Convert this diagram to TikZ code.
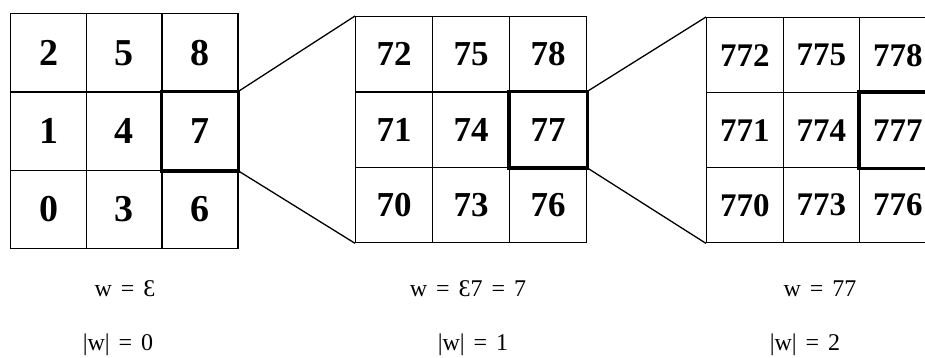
\documentclass[tikz,border=0pt]{standalone}
\usepackage{fontspec}
\setmainfont{Liberation Serif}
\newcommand{\eqsp}{\hspace{3pt} = \hspace{3pt}}
\begin{document}
\begin{tikzpicture}[x=1pt,y=-1pt,
  cellA/.style={draw,line width=1.4pt,minimum width=75.7pt,minimum height=78.3pt,inner sep=0pt,anchor=north west,font=\fontsize{38}{38}\selectfont\bfseries},
  cellB/.style={draw,line width=1.4pt,minimum width=77pt,minimum height=75.3pt,inner sep=0pt,anchor=north west,font=\fontsize{35}{35}\selectfont\bfseries},
  cellC/.style={draw,line width=1.4pt,minimum width=76.5pt,minimum height=75pt,inner sep=0pt,anchor=north west,font=\fontsize{33}{33}\selectfont\bfseries},
  hl/.style={draw,line width=3.2pt},
  zoomline/.style={line width=1.3pt},
  lbl/.style={anchor=base,inner sep=0pt,font=\fontsize{24}{24}\selectfont}]
\useasboundingbox (0,0) rectangle (925,357);
\clip (0,0) rectangle (925,357);
% grid 1
\foreach \c/\r/\t in {0/0/2,1/0/5,2/0/8,0/1/1,1/1/4,2/1/7,0/2/0,1/2/3,2/2/6}{
  \node[cellA] (a\t) at ({10+75.7*\c},{13+78.3*\r}) {\t};
}
\draw[hl] (a7.north west) rectangle (a7.south east);
% grid 2
\foreach \c/\r/\t in {0/0/72,1/0/75,2/0/78,0/1/71,1/1/74,2/1/77,0/2/70,1/2/73,2/2/76}{
  \node[cellB] (b\t) at ({355+77*\c},{16+75.3*\r}) {\t};
}
\draw[hl] (b77.north west) rectangle (b77.south east);
% grid 3
\foreach \c/\r/\t in {0/0/772,1/0/775,2/0/778,0/1/771,1/1/774,2/1/777,0/2/770,1/2/773,2/2/776}{
  \node[cellC] (c\t) at ({706+76.5*\c},{17+75*\r}) {\t};
}
\draw[hl] (c777.north west) rectangle (c777.south east);
% zoom connectors
\draw[zoomline] (a7.north east) -- (b72.north west);
\draw[zoomline] (a7.south east) -- (b70.south west);
\draw[zoomline] (b77.north east) -- (c772.north west);
\draw[zoomline] (b77.south east) -- (c770.south west);
% labels
\node[lbl] (w0) at (125,296) {w\eqsp Ɛ};
\node[lbl] (w1) at (468,296) {w\eqsp Ɛ7\eqsp 7};
\node[lbl] (w2) at (820,296) {w\eqsp 77};
\node[lbl] (n0) at (118,350) {|w|\eqsp 0};
\node[lbl] (n1) at (473,350) {|w|\eqsp 1};
\node[lbl] (n2) at (805,350) {|w|\eqsp 2};
\end{tikzpicture}
\end{document}
